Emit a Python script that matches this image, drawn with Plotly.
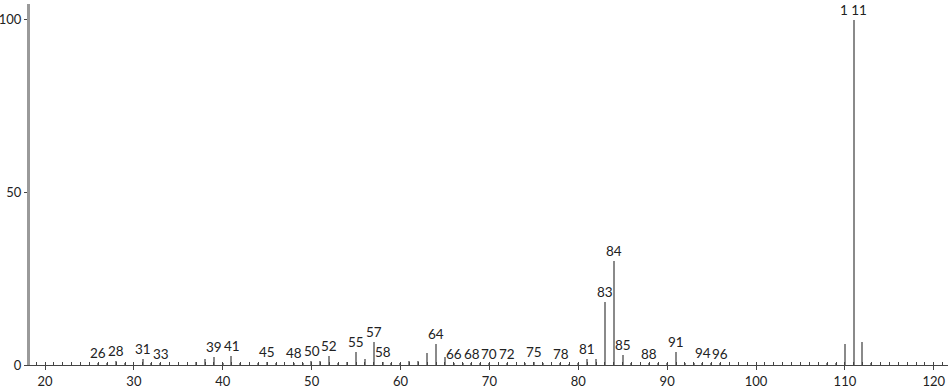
import plotly.graph_objects as go

mz = [26, 27, 28, 29, 31, 32, 33, 37, 38, 39, 40, 41, 42, 44, 45, 46, 48, 49, 50,
      51, 52, 53, 54, 55, 56, 57, 58, 59, 60, 61, 62, 63, 64, 65, 66, 67, 68, 69,
      70, 72, 74, 75, 76, 78, 79, 80, 81, 82, 83, 84, 85, 86, 88, 89, 90, 91, 92,
      93, 94, 95, 96, 108, 109, 110, 111, 112, 113]
intensity = [0.5, 0.6, 1.2, 0.4, 1.8, 0.5, 0.3, 0.9, 1.6, 2.3, 0.4, 2.6, 0.5, 0.4,
             1.0, 0.3, 0.6, 0.4, 1.1, 1.2, 2.6, 0.4, 0.9, 3.7, 1.6, 6.6, 0.9, 0.3,
             0.3, 1.1, 1.2, 3.4, 6.2, 2.2, 0.4, 0.3, 0.4, 0.3, 0.4, 0.3, 0.3, 0.8,
             0.3, 0.4, 0.2, 0.4, 1.6, 1.6, 18.4, 30.0, 3.0, 0.3, 0.3, 0.3, 0.3, 3.9,
             0.5, 0.3, 0.6, 0.4, 0.3, 0.3, 0.7, 6.1, 100.0, 6.8, 0.3]
labeled = [26, 28, 31, 33, 39, 41, 45, 48, 50, 52, 55, 57, 58, 64, 66, 68, 70, 72,
           75, 78, 81, 83, 84, 85, 88, 91, 94, 96, 111]
x_ticks = [20, 30, 40, 50, 60, 70, 80, 90, 100, 110, 120]
y_ticks = [0, 50, 100]

FONT = "Lato"
fig = go.Figure()
fig.add_trace(go.Bar(x=mz, y=intensity, width=0.16,
                     marker=dict(color="#8a8a8a", line=dict(width=0)),
                     hoverinfo="x+y"))

lookup = dict(zip(mz, intensity))
for m in labeled:
    fig.add_annotation(x=m, y=lookup[m], text="1 11" if m == 111 else str(m),
                       showarrow=False, yanchor="bottom", yshift=0,
                       font=dict(family=FONT, size=13.5, color="#222"))

fig.update_layout(
    width=951, height=389,
    margin=dict(l=30, r=3, t=4, b=24, autoexpand=False),
    paper_bgcolor="white", plot_bgcolor="white",
    showlegend=False, bargap=0,
    font=dict(family=FONT, size=13, color="#222"),
)
fig.update_xaxes(range=[18.31, 121.6], tickvals=x_ticks, ticks="outside", ticklen=4,
                 tickcolor="#444", showline=True, linecolor="#444", linewidth=1,
                 showgrid=False, zeroline=False, automargin=False,
                 ticklabelstandoff=0,
                 minor=dict(dtick=1, ticks="inside", ticklen=3, tickcolor="#444", showgrid=False),
                 tickfont=dict(family=FONT, size=13, color="#222"))
fig.update_yaxes(range=[0, 104.6], tickvals=y_ticks, ticks="outside", ticklen=3,
                 tickcolor="#444", showline=True, linecolor="#9a9a9a", linewidth=3,
                 showgrid=False, zeroline=False, automargin=False,
                 ticklabelstandoff=0,
                 tickfont=dict(family=FONT, size=13, color="#222"))

fig.write_html("out.html")
